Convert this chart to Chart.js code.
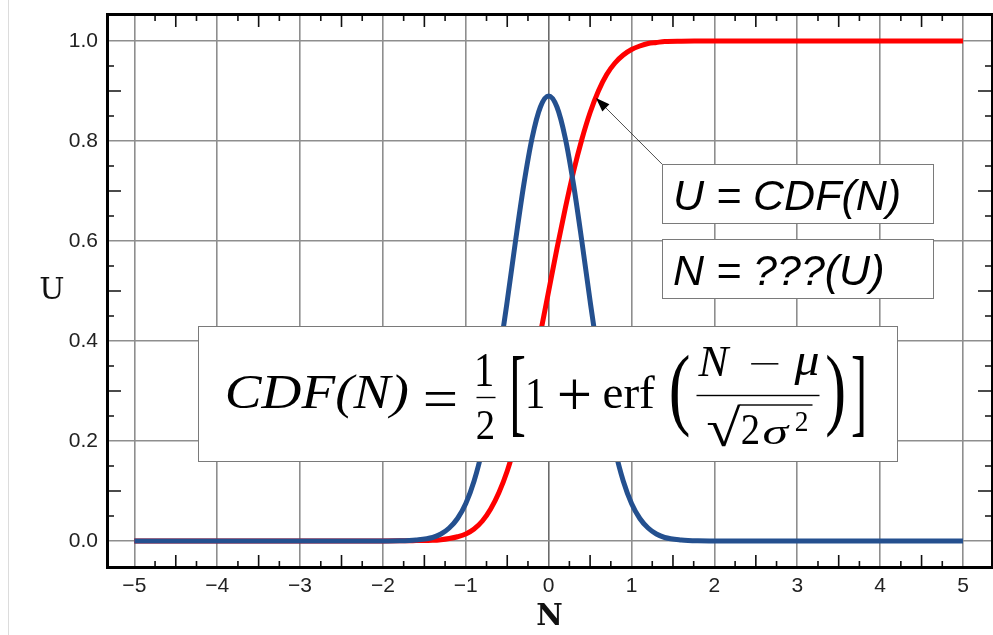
<!DOCTYPE html>
<html>
<head>
<meta charset="utf-8">
<script src="https://cdn.jsdelivr.net/npm/chart.js@4.4.1/dist/chart.umd.min.js"></script>
<style>
  html, body { margin: 0; padding: 0; background: #fff; }
  #wrap { position: relative; width: 993px; height: 635px; }
  #wrap::before { content: ''; position: absolute; left: 8px; top: 0; bottom: 0; border-left: 1px solid #dcdcdc; }
  canvas { position: relative; }
</style>
</head>
<body>
<div id="wrap"><canvas id="chart" width="993" height="635"></canvas></div>
<script>
const chartElm = document.getElementById('chart');

// sample positions along N
const nValues = [-5, -4, -3, -2, -1.8, -1.6,
    -1.4, -1.3, -1.2, -1.1, -1.0, -0.9, -0.8, -0.7, -0.6, -0.5, -0.4, -0.3, -0.2, -0.1,
    0,
    0.1, 0.2, 0.3, 0.4, 0.5, 0.6, 0.7, 0.8, 0.9, 1.0, 1.1, 1.2, 1.3, 1.4,
    1.6, 1.8, 2, 3, 4, 5]

// bell curve (blue)
const pdfValues = [0, 0, 0, 0, 0.0003, 0.002,
    0.007, 0.014, 0.026, 0.045, 0.075, 0.12, 0.183, 0.265, 0.366, 0.48, 0.6, 0.713, 0.806, 0.868,
    0.89,
    0.868, 0.806, 0.713, 0.6, 0.48, 0.366, 0.265, 0.183, 0.12, 0.075, 0.045, 0.026, 0.014, 0.007,
    0.002, 0.0003, 0, 0, 0, 0]

// cumulative curve (red)
const cdfValues = [0, 0, 0, 0.0001, 0.0003, 0.0008,
    0.0014, 0.0027, 0.005, 0.0085, 0.014, 0.024, 0.04, 0.064, 0.097, 0.14, 0.196, 0.261, 0.335, 0.415,
    0.5,
    0.585, 0.665, 0.739, 0.803, 0.857, 0.9, 0.933, 0.956, 0.972, 0.983, 0.99, 0.995, 0.997, 0.999,
    0.9997, 0.9999, 1, 1, 1, 1]

const xTickValues = [-5, -4, -3, -2, -1, 0, 1, 2, 3, 4, 5]
const yTickValues = [0, 0.2, 0.4, 0.6, 0.8, 1.0]

const labelBoxes = [
    { text: 'U = CDF(N)', x0: 1.367, x1: 4.637, y0: 0.754, y1: 0.636 },
    { text: 'N = ???(U)', x0: 1.367, x1: 4.637, y0: 0.604, y1: 0.486 }
]
const arrowTip = { x: 0.571, y: 0.886 }
const formulaBox = { x0: -4.23, x1: 4.20, y0: 0.43, y1: 0.16 }

const SERIF = '"Liberation Serif", "DejaVu Serif", serif'

// pieces of the formula: [text, italic, font size, left, top, right, bottom] relative to the box corner
const formulaGlyphs = [
    ['CDF(N)', true, 46, 28.7, 45.7, 208.7, 92],
    ['=', false, 46, 227, 65, 257, 80],
    ['1', false, 46, 279, 26, 294, 59],
    ['2', false, 46, 279, 84, 295, 112],
    ['[', false, 92, 314, 29, 326, 110],
    ['1', false, 46, 330, 51, 345, 81],
    ['+', false, 46, 361, 54, 391, 84],
    ['erf', false, 46, 405, 47, 457, 81],
    ['(', false, 92, 473, 27, 490, 111],
    ['N', true, 46, 499, 19, 532, 49],
    ['\u2212', false, 46, 552, 36, 580, 38],
    ['\u03bc', true, 46, 595, 27, 620, 59],
    ['\u221a', false, 46, 509, 78, 543, 121],
    ['2', false, 46, 544, 87, 560, 117],
    ['\u03c3', true, 46, 565, 97, 592, 117],
    ['2', false, 32, 597, 84, 609, 104],
    [')', false, 92, 628, 27, 645, 111],
    [']', false, 92, 654, 29, 665, 110]
]
// fraction bars and the root's overline: [left, right, y]
const formulaRules = [
    [278, 297, 71],
    [498, 621, 69],
    [541, 614, 78.5]
]

function fitGlyph(ctx, text, font, x0, y0, x1, y1) {
    ctx.font = font
    const m = ctx.measureText(text)
    const w = m.actualBoundingBoxLeft + m.actualBoundingBoxRight
    const h = m.actualBoundingBoxAscent + m.actualBoundingBoxDescent
    ctx.save()
    ctx.translate(x0, y0)
    ctx.scale((x1 - x0) / w, (y1 - y0) / h)
    ctx.textAlign = 'left'
    ctx.textBaseline = 'alphabetic'
    ctx.fillText(text, m.actualBoundingBoxLeft, m.actualBoundingBoxAscent)
    ctx.restore()
}

// inward tick marks and the heavy black frame
const framePlugin = {
    id: 'frame',
    afterDraw(chart) {
        const ctx = chart.ctx
        const a = chart.chartArea
        const xs = chart.scales.x, ys = chart.scales.y
        ctx.save()
        ctx.strokeStyle = '#111'
        ctx.lineWidth = 1.6
        ctx.beginPath()
        for (let i = -19; i <= 19; i++) {
            if (i % 4 === 0) continue
            const px = xs.getPixelForValue(i / 4)
            const len = i % 2 === 0 ? 13 : 7
            ctx.moveTo(px, a.bottom); ctx.lineTo(px, a.bottom - len)
            ctx.moveTo(px, a.top); ctx.lineTo(px, a.top + len)
        }
        for (let i = 1; i <= 19; i++) {
            if (i % 4 === 0) continue
            const py = ys.getPixelForValue(i / 20)
            const len = i % 2 === 0 ? 14 : 7
            ctx.moveTo(a.left, py); ctx.lineTo(a.left + len, py)
            ctx.moveTo(a.right, py); ctx.lineTo(a.right - len, py)
        }
        ctx.stroke()
        ctx.lineWidth = 3
        ctx.strokeStyle = '#000'
        ctx.strokeRect(a.left + 0.5, a.top + 0.5, a.right - a.left, a.bottom - a.top - 1)

        // unrotated y title
        ctx.fillStyle = '#111'
        ctx.font = '30px "DejaVu Serif"'
        ctx.textAlign = 'center'
        ctx.textBaseline = 'middle'
        ctx.fillText('U', 52, (a.top + a.bottom) / 2)
        ctx.restore()
    }
}

// text boxes, arrow and formula
const notesPlugin = {
    id: 'notes',
    afterDatasetsDraw(chart) {
        const ctx = chart.ctx
        const xs = chart.scales.x, ys = chart.scales.y
        ctx.save()

        labelBoxes.forEach(b => {
            const l = Math.round(xs.getPixelForValue(b.x0)) + 0.5
            const r = Math.round(xs.getPixelForValue(b.x1)) + 0.5
            const t = Math.round(ys.getPixelForValue(b.y0)) + 0.5
            const btm = Math.round(ys.getPixelForValue(b.y1)) + 0.5
            ctx.fillStyle = '#fff'
            ctx.fillRect(l, t, r - l, btm - t)
            ctx.strokeStyle = '#7a7a7a'
            ctx.lineWidth = 1
            ctx.strokeRect(l, t, r - l, btm - t)
            ctx.fillStyle = '#000'
            ctx.font = 'italic 43px "Liberation Sans", Arial, sans-serif'
            ctx.textAlign = 'left'
            ctx.textBaseline = 'alphabetic'
            ctx.fillText(b.text, l + 10.5, t + 45)
        })

        // arrow from the first box corner to the red curve
        const sx = xs.getPixelForValue(labelBoxes[0].x0)
        const sy = ys.getPixelForValue(labelBoxes[0].y0)
        const tx = xs.getPixelForValue(arrowTip.x)
        const ty = ys.getPixelForValue(arrowTip.y)
        const ang = Math.atan2(ty - sy, tx - sx)
        ctx.strokeStyle = '#222'
        ctx.lineWidth = 0.8
        ctx.beginPath()
        ctx.moveTo(sx, sy)
        ctx.lineTo(tx - 10 * Math.cos(ang), ty - 10 * Math.sin(ang))
        ctx.stroke()
        ctx.fillStyle = '#000'
        ctx.beginPath()
        ctx.moveTo(tx, ty)
        ctx.lineTo(tx - 14 * Math.cos(ang) + 5 * Math.sin(ang), ty - 14 * Math.sin(ang) - 5 * Math.cos(ang))
        ctx.lineTo(tx - 14 * Math.cos(ang) - 5 * Math.sin(ang), ty - 14 * Math.sin(ang) + 5 * Math.cos(ang))
        ctx.closePath()
        ctx.fill()

        // formula panel
        const fl = Math.round(xs.getPixelForValue(formulaBox.x0)) + 0.5
        const fr = Math.round(xs.getPixelForValue(formulaBox.x1)) + 0.5
        const ft = Math.round(ys.getPixelForValue(formulaBox.y0)) + 0.5
        const fb = Math.round(ys.getPixelForValue(formulaBox.y1)) + 0.5
        ctx.fillStyle = '#fff'
        ctx.fillRect(fl, ft, fr - fl, fb - ft)
        ctx.strokeStyle = '#7a7a7a'
        ctx.lineWidth = 1
        ctx.strokeRect(fl, ft, fr - fl, fb - ft)

        ctx.fillStyle = '#000'
        formulaGlyphs.forEach(g => {
            const font = (g[1] ? 'italic ' : '') + g[2] + 'px ' + SERIF
            fitGlyph(ctx, g[0], font, fl + g[3], ft + g[4], fl + g[5], ft + g[6])
        })
        formulaRules.forEach(r => {
            ctx.fillRect(fl + r[0], ft + r[2] - 0.7, r[1] - r[0], 1.4)
        })
        ctx.restore()
    }
}

const toPoints = ys => nValues.map((n, i) => ({ x: n, y: ys[i] }))

new Chart(chartElm, {
    type: 'scatter',
    data: {
        datasets: [{
            label: 'PDF',
            data: toPoints(pdfValues),
            showLine: true,
            borderColor: '#24508f',
            borderWidth: 5,
            pointRadius: 0,
            cubicInterpolationMode: 'monotone',
            order: 0
        }, {
            label: 'CDF',
            data: toPoints(cdfValues),
            showLine: true,
            borderColor: '#ff0000',
            borderWidth: 5,
            pointRadius: 0,
            cubicInterpolationMode: 'monotone',
            order: 1
        }]
    },
    options: {
        responsive: false,
        animation: false,
        events: [],
        layout: { padding: { top: 14, right: 1, left: 0, bottom: 0 } },
        plugins: {
            legend: { display: false },
            tooltip: { enabled: false }
        },
        scales: {
            x: {
                type: 'linear',
                min: -5.33,
                max: 5.35,
                afterBuildTicks: s => { s.ticks = xTickValues.map(v => ({ value: v })) },
                afterFit: s => { s.height = 67; s.paddingLeft = 0; s.paddingRight = 0 },
                border: { display: false },
                grid: {
                    drawTicks: false,
                    lineWidth: 1.6,
                    color: c => (c.tick && c.tick.value === 0) ? '#6a6a6a' : '#8e8e8e'
                },
                ticks: {
                    autoSkip: false,
                    maxRotation: 0,
                    padding: 6,
                    color: '#222',
                    font: { family: '"Liberation Sans", Arial, sans-serif', size: 21 },
                    callback: v => v < 0 ? '\u2212' + Math.abs(v) : String(v)
                },
                title: {
                    display: true,
                    text: 'N',
                    color: '#111',
                    font: { family: '"DejaVu Serif", serif', size: 29, weight: 'bold' },
                    padding: { top: 0, bottom: 0 }
                }
            },
            y: {
                type: 'linear',
                min: -0.054,
                max: 1.054,
                afterBuildTicks: s => { s.ticks = yTickValues.map(v => ({ value: v })) },
                afterFit: s => { s.width = 107; s.paddingTop = 0; s.paddingBottom = 0 },
                border: { display: false },
                grid: {
                    drawTicks: false,
                    lineWidth: 1.6,
                    color: '#8e8e8e'
                },
                ticks: {
                    autoSkip: false,
                    padding: 9,
                    color: '#222',
                    font: { family: '"Liberation Sans", Arial, sans-serif', size: 21 },
                    callback: v => v.toFixed(1)
                }
            }
        }
    },
    plugins: [notesPlugin, framePlugin]
});
</script>
</body>
</html>
